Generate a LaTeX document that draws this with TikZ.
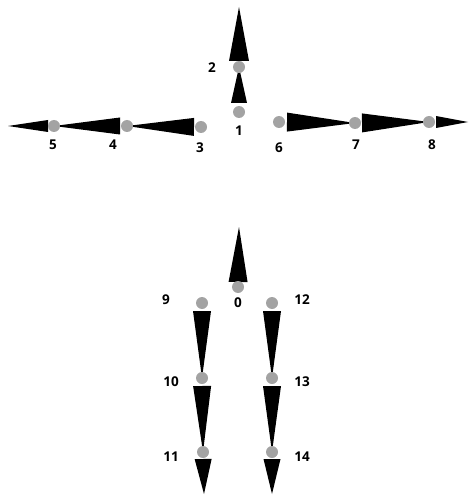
\documentclass[tikz,border=0pt]{standalone}
\usepackage{fontspec}
\setmainfont{Open Sans}
\usetikzlibrary{calc}
\definecolor{jointgray}{HTML}{A3A3A3}
\tikzset{
  joint/.style={circle,fill=jointgray,inner sep=0pt,minimum size=12pt},
  lbl/.style={font=\fontsize{13.5}{14}\selectfont\bfseries,inner sep=0pt,text=black}
}
% #1 from, #2 to, #3 base offset from #1, #4 half width
\newcommand\limb[4]{%
  \path ($(#1)!#3!(#2)$) coordinate (bc);
  \fill[black] ($(bc)!#4!90:(#2)$) -- ($(bc)!#4!-90:(#2)$) -- (#2) -- cycle;}
\begin{document}
\begin{tikzpicture}[x=1pt,y=-1pt]
\useasboundingbox (0,0) rectangle (469,497);
% joint coordinates
\coordinate (p0) at (238,287);
\coordinate (p1) at (239,112);
\coordinate (p2) at (239,67);
\coordinate (p3) at (201,127);
\coordinate (p4) at (127,126);
\coordinate (p5) at (54,126);
\coordinate (p6) at (279,122);
\coordinate (p7) at (355,123);
\coordinate (p8) at (429,122);
\coordinate (p9) at (202,303);
\coordinate (p10) at (202,378);
\coordinate (p11) at (203,452);
\coordinate (p12) at (272,303);
\coordinate (p13) at (272,378);
\coordinate (p14) at (272,452);
% free ends
\coordinate (e2) at (239,7);
\coordinate (e5) at (8,126);
\coordinate (e8) at (468,122);
\coordinate (e0) at (239,227);
\coordinate (e11) at (204,494);
\coordinate (e14) at (272,494);
% limbs
\limb{p1}{p2}{9pt}{8pt}
\limb{p2}{e2}{6pt}{10pt}
\limb{p3}{p4}{7pt}{9pt}
\limb{p4}{p5}{7pt}{8.5pt}
\limb{p5}{e5}{6pt}{6pt}
\limb{p6}{p7}{8pt}{9.5pt}
\limb{p7}{p8}{7pt}{9.5pt}
\limb{p8}{e8}{7pt}{6pt}
\limb{p0}{e0}{5pt}{9.5pt}
\limb{p9}{p10}{8pt}{9pt}
\limb{p10}{p11}{8pt}{9pt}
\limb{p11}{e11}{7pt}{8.5pt}
\limb{p12}{p13}{8pt}{9pt}
\limb{p13}{p14}{8pt}{9pt}
\limb{p14}{e14}{7pt}{8.5pt}
% joints
\foreach \i in {0,...,14} \node[joint] (j\i) at (p\i) {};
% labels
\node[lbl] (l0) at (238,303) {0};
\node[lbl] (l1) at (239,131) {1};
\node[lbl] (l2) at (212,68) {2};
\node[lbl] (l3) at (200,148) {3};
\node[lbl] (l4) at (113,145) {4};
\node[lbl] (l5) at (53,145) {5};
\node[lbl] (l6) at (279,148) {6};
\node[lbl] (l7) at (356,145) {7};
\node[lbl] (l8) at (432,145) {8};
\node[lbl] (l9) at (166,300) {9};
\node[lbl] (l10) at (171,382) {10};
\node[lbl] (l11) at (171,457) {11};
\node[lbl] (l12) at (302,300) {12};
\node[lbl] (l13) at (302,382) {13};
\node[lbl] (l14) at (302,457) {14};
\end{tikzpicture}
\end{document}
